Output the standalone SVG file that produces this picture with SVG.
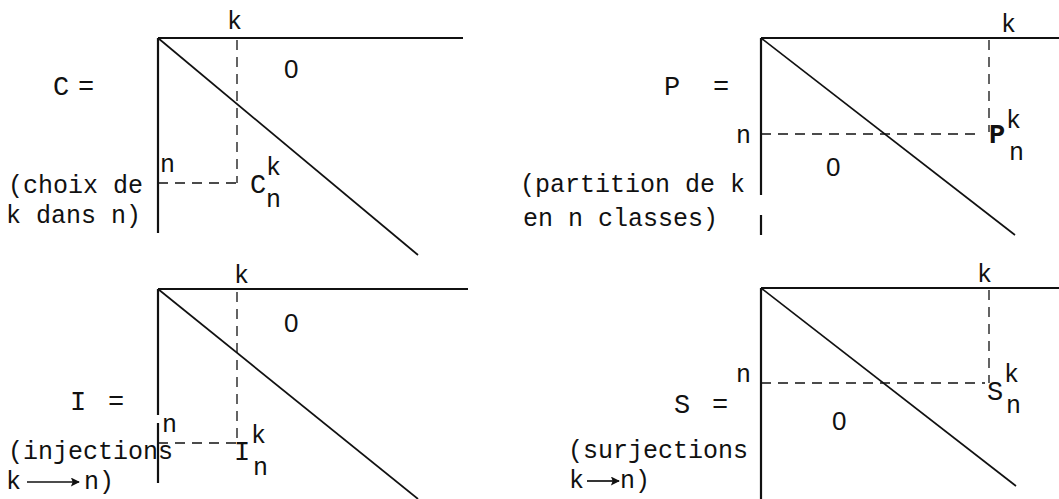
<svg xmlns="http://www.w3.org/2000/svg" width="1059" height="499" viewBox="0 0 1059 499">
<style>
  text { font-family: "Liberation Mono", "DejaVu Sans Mono", monospace; font-size: 25px; fill: #111; }
  .big { font-size: 27px; }
  .zero { font-family: "Liberation Sans", Arial, sans-serif; font-size: 26px; }
  .bold { font-weight: bold; }
  .axis { stroke: #111; stroke-width: 2.2; fill: none; }
  .diag { stroke: #111; stroke-width: 1.7; fill: none; }
  .dash { stroke: #111; stroke-width: 1.3; stroke-dasharray: 10 7; fill: none; }
  .arrow { stroke: #111; stroke-width: 1.7; }
</style>
<defs>
  <marker id="ah" viewBox="0 0 10 10" refX="9" refY="5" markerWidth="10" markerHeight="9" markerUnits="userSpaceOnUse" orient="auto">
    <path d="M0,0 L10,5 L0,10 L2,5 Z" fill="#111"/>
  </marker>
</defs>
<rect width="1059" height="499" fill="#fff"/>

<g id="connectors">
  <!-- C panel -->
  <path class="axis" d="M158,38 H463 M158,38 V233"/>
  <path class="diag" d="M158,38 L418,255"/>
  <path class="dash" d="M237,40 V183 M158,183 H237"/>
  <!-- P panel -->
  <path class="axis" d="M761,38 H1059 M761,38 V195 M761,215 V235"/>
  <path class="diag" d="M761,38 L1015,235"/>
  <path class="dash" d="M989,40 V132 M761,134 H977"/>
  <!-- I panel -->
  <path class="axis" d="M158,289 H468 M158,289 V415 M158,423 V483"/>
  <path class="diag" d="M158,289 L418,499"/>
  <path class="dash" d="M237,292 V443 M158,443 H237"/>
  <!-- S panel -->
  <path class="axis" d="M761,288 H1059 M761,288 V499"/>
  <path class="diag" d="M761,288 L1016,486"/>
  <path class="dash" d="M989,290 V383 M761,383 H985"/>
  <!-- arrows k -> n -->
  <line class="arrow" x1="27" y1="482" x2="79" y2="482" marker-end="url(#ah)"/>
  <line class="arrow" x1="587" y1="481" x2="619" y2="481" marker-end="url(#ah)"/>
</g>

<g id="panel-C">
  <text x="227" y="29">k</text>
  <text class="zero" x="284" y="78">0</text>
  <text class="big" x="53" y="95">C<tspan x="78">=</tspan></text>
  <text x="160" y="172">n</text>
  <text class="big" x="250" y="193">C</text>
  <text x="266" y="175">k</text>
  <text x="266" y="207">n</text>
  <text x="8" y="193">(choix de</text>
  <text x="6" y="223">k dans n)</text>
</g>

<g id="panel-P">
  <text x="1001" y="32">k</text>
  <text class="big" x="664" y="95">P<tspan x="713">=</tspan></text>
  <text x="736" y="143">n</text>
  <text class="big bold" x="989" y="143">P</text>
  <text x="1006" y="128">k</text>
  <text x="1009" y="160">n</text>
  <text class="zero" x="826" y="176">0</text>
  <text x="520" y="192">(partition de k</text>
  <text x="523" y="226">en n classes)</text>
</g>

<g id="panel-I">
  <text x="234" y="283">k</text>
  <text class="zero" x="284" y="332">0</text>
  <text class="big" x="70" y="410">I<tspan x="108">=</tspan></text>
  <text x="162" y="432">n</text>
  <text class="big" x="234" y="460">I</text>
  <text x="251" y="443">k</text>
  <text x="253" y="475">n</text>
  <text x="8" y="459">(injections</text>
  <text x="6" y="489">k<tspan x="84">n)</tspan></text>
</g>

<g id="panel-S">
  <text x="977" y="282">k</text>
  <text x="736" y="382">n</text>
  <text class="big" x="674" y="413">S<tspan x="712">=</tspan></text>
  <text class="big" x="987" y="400">S</text>
  <text x="1004" y="382">k</text>
  <text x="1006" y="413">n</text>
  <text class="zero" x="832" y="430">0</text>
  <text x="568" y="458">(surjections</text>
  <text x="569" y="488">k<tspan x="620">n)</tspan></text>
</g>
</svg>
